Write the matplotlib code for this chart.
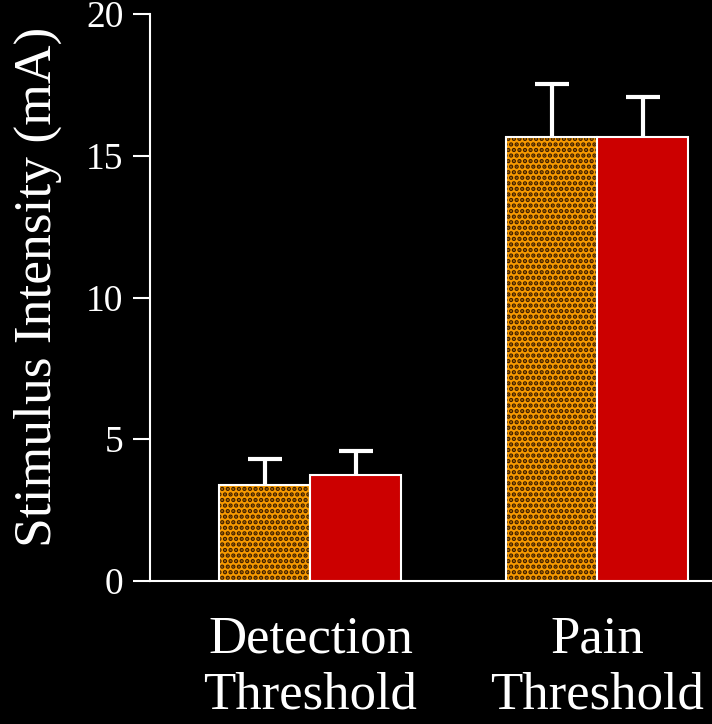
import matplotlib.pyplot as plt
import numpy as np

plt.rcParams["font.family"] = ["Liberation Serif", "DejaVu Serif"]
plt.rcParams["hatch.linewidth"] = 2.2

categories = ["Detection\nThreshold", "Pain\nThreshold"]
group_a = [3.39, 15.66]
group_a_err = [0.91, 1.87]
group_b = [3.74, 15.66]
group_b_err = [0.85, 1.41]

ORANGE = "#f79a00"
RED = "#cc0000"
width = 0.317

fig = plt.figure(figsize=(7.12, 7.24), dpi=100, facecolor="black")
ax = fig.add_axes([150 / 712, 1 - 581 / 724, 1 - 150 / 712, (581 - 14) / 724])
ax.set_facecolor("black")

x = np.arange(len(categories))
xa = x - width / 2
xb = x + width / 2

# error bars sit behind the bars, so only the upper half shows
for xs, vals, errs in [(xa, group_a, group_a_err), (xb, group_b, group_b_err)]:
    ax.errorbar(xs, vals, yerr=errs, fmt="none", ecolor="white",
                elinewidth=3, capsize=12.5, capthick=3, zorder=1)

# dotted fill for the first series, then a white outline on top
ax.bar(xa, group_a, width, color=ORANGE, edgecolor="#3a1c00", hatch="...", linewidth=0, zorder=2)
ax.bar(xa, group_a, width, fill=False, edgecolor="white", linewidth=1.5, zorder=3)
ax.bar(xb, group_b, width, color=RED, edgecolor="white", linewidth=1.5, zorder=3)

ax.set_xlim(-0.559, 1.399)
ax.set_ylim(0, 20)
ax.set_yticks([0, 5, 10, 15, 20])
ax.set_xticks(x)
ax.set_xticklabels(categories, fontsize=38, color="white", linespacing=1.22)
ax.tick_params(axis="x", length=0, pad=25)
ax.tick_params(axis="y", colors="white", labelsize=27, length=12, width=1.5, direction="out", pad=7)
ax.set_ylabel("Stimulus Intensity (mA)", fontsize=38.5, color="white")
ax.yaxis.set_label_coords(-88 / 562, (581 - 287) / 567)

for side in ["top", "right"]:
    ax.spines[side].set_visible(False)
for side in ["left", "bottom"]:
    ax.spines[side].set_color("white")
    ax.spines[side].set_linewidth(1.5)

fig.savefig("out.png", dpi=100, facecolor="black")
